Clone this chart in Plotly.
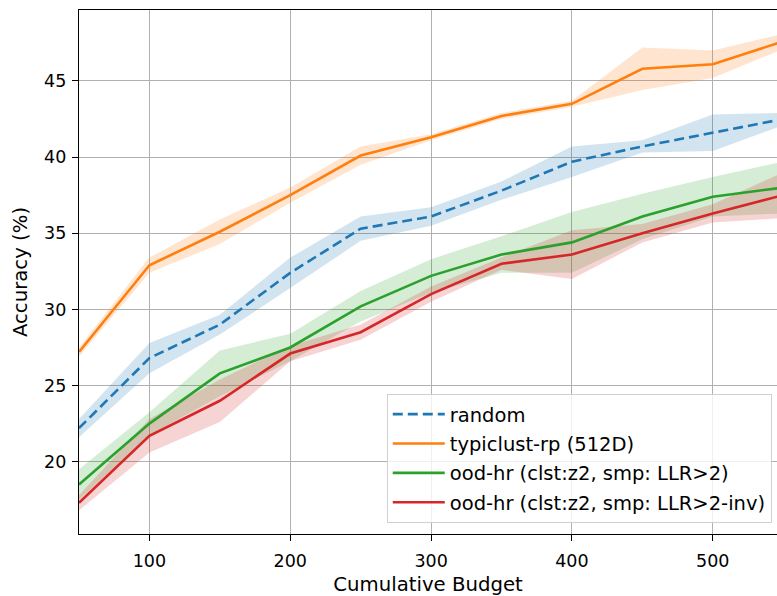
import plotly.graph_objects as go

budget = [50, 100, 150, 200, 250, 300, 350, 400, 450, 500, 550]

random_mean = [22.2, 26.8, 29.0, 32.4, 35.3, 36.1, 37.8, 39.7, 40.7, 41.6, 42.5]
random_std = [0.6, 1.0, 0.65, 1.0, 0.8, 0.6, 0.6, 1.0, 0.4, 1.2, 0.4]

typiclust_mean = [27.2, 32.9, 35.1, 37.5, 40.1, 41.3, 42.7, 43.5, 45.8, 46.1, 47.6]
typiclust_std = [0.3, 0.5, 0.8, 0.5, 0.6, 0.2, 0.2, 0.2, 1.4, 0.9, 0.5]

oodhr_mean = [18.5, 22.5, 25.8, 27.5, 30.2, 32.2, 33.6, 34.4, 36.1, 37.4, 38.0]
oodhr_std = [1.0, 0.75, 1.5, 0.9, 1.0, 1.1, 1.2, 2.0, 1.5, 1.3, 1.7]

oodhr_inv_mean = [17.3, 21.7, 24.0, 27.1, 28.5, 31.0, 33.0, 33.6, 35.0, 36.3, 37.5]
oodhr_inv_std = [0.5, 1.1, 1.4, 0.5, 0.5, 0.5, 0.4, 1.6, 0.6, 0.6, 1.5]

x_ticks = [100, 200, 300, 400, 500]
y_ticks = [20, 25, 30, 35, 40, 45]

series = [
    ("random", random_mean, random_std, "#1f77b4", "rgba(31,119,180,0.2)", "10px,5px"),
    ("typiclust-rp (512D)", typiclust_mean, typiclust_std, "#ff7f0e", "rgba(255,127,14,0.2)", "solid"),
    ("ood-hr (clst:z2, smp: LLR>2)", oodhr_mean, oodhr_std, "#2ca02c", "rgba(44,160,44,0.2)", "solid"),
    ("ood-hr (clst:z2, smp: LLR>2-inv)", oodhr_inv_mean, oodhr_inv_std, "#d62728", "rgba(214,39,40,0.2)", "solid"),
]

fig = go.Figure()
for name, m, s, col, fcol, dash in series:
    upper = [a + b for a, b in zip(m, s)]
    lower = [a - b for a, b in zip(m, s)]
    fig.add_trace(go.Scatter(
        x=budget + budget[::-1], y=upper + lower[::-1],
        fill="toself", fillcolor=fcol, line=dict(width=0),
        mode="lines", showlegend=False, hoverinfo="skip"))
for i, (name, m, s, col, fcol, dash) in enumerate(series):
    fig.add_trace(go.Scatter(
        x=budget, y=m, mode="lines", name=name, legendgroup=f"g{i}",
        line=dict(color=col, width=2.6, dash=dash)))

title_font = dict(family="DejaVu Sans", size=19.7, color="#000000")
fig.update_layout(
    width=777, height=596,
    margin=dict(l=79, r=0, t=10, b=62, autoexpand=False),
    plot_bgcolor="white", paper_bgcolor="white",
    font=dict(family="DejaVu Sans", size=17, color="#000000"),
    legend=dict(
        x=0.9925, y=0.2672, xanchor="right", yanchor="top",
        bgcolor="rgba(255,255,255,0.8)", bordercolor="#d0d0d0", borderwidth=1,
        font=dict(family="DejaVu Sans", size=19.5, color="#000000"),
        tracegroupgap=1, traceorder="grouped", itemwidth=52),
    xaxis=dict(
        range=[50, 545.6], tickvals=x_ticks, ticktext=[str(v) for v in x_ticks],
        tickfont=dict(family="DejaVu Sans", size=17.5, color="#000000"),
        showgrid=True, gridcolor="#b0b0b0", gridwidth=1,
        showline=True, linecolor="black", linewidth=1.3, mirror=True,
        ticks="outside", ticklen=6, tickcolor="black", zeroline=False,
        automargin=False, ticklabelstandoff=5,
        title=dict(text="Cumulative Budget", standoff=11, font=title_font),
    ),
    yaxis=dict(
        range=[15.25, 49.66], tickvals=y_ticks, ticktext=[str(v) for v in y_ticks],
        tickfont=dict(family="DejaVu Sans", size=17.5, color="#000000"),
        showgrid=True, gridcolor="#b0b0b0", gridwidth=1,
        showline=True, linecolor="black", linewidth=1.3, mirror=False,
        ticks="outside", ticklen=6, tickcolor="black", zeroline=False,
        automargin=False, ticklabelstandoff=2,
        title=dict(text="Accuracy (%)", standoff=11, font=title_font),
    ),
)

fig.write_html(
    "out.html",
    config={"displayModeBar": False},
    post_script="document.body.style.margin='0';document.body.style.overflow='hidden';",
)
